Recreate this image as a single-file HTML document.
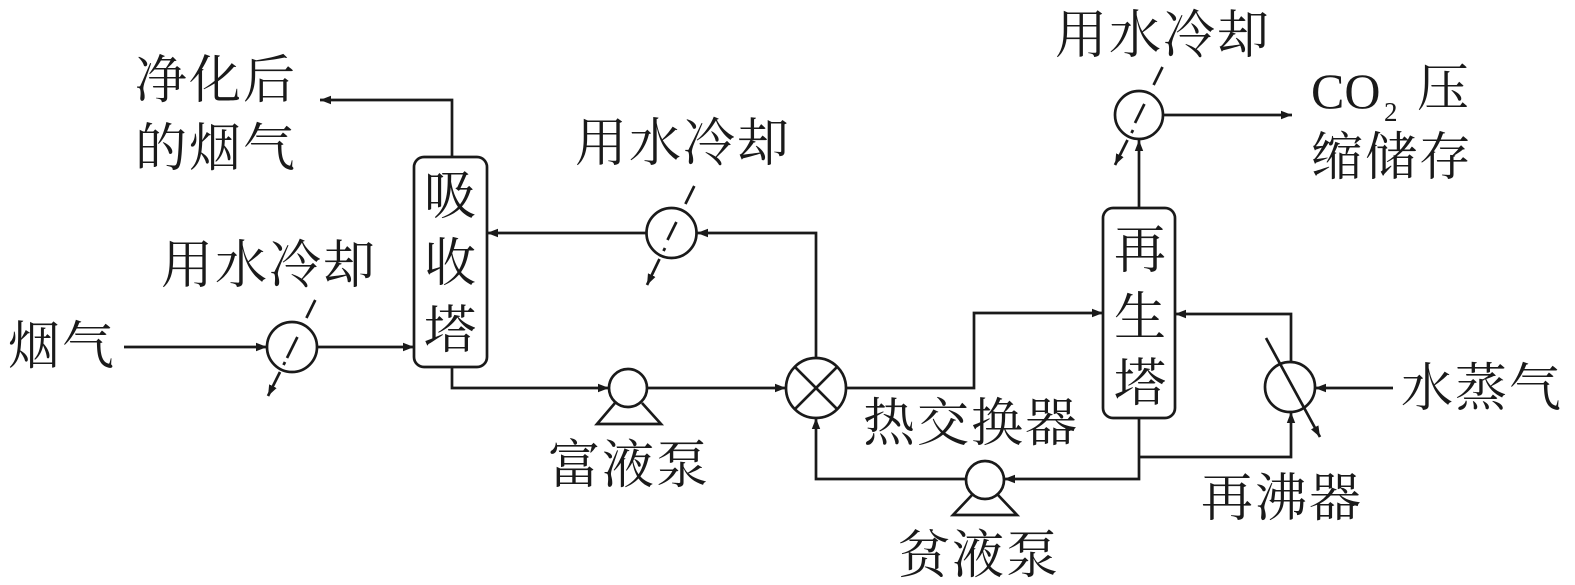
<!DOCTYPE html>
<html>
<head>
<meta charset="utf-8">
<style>
html,body{margin:0;padding:0;background:#fff;}
svg{display:block;}
.t{font-family:"Liberation Serif","Noto Serif CJK SC",serif;font-size:52px;fill:#1a1a1a;letter-spacing:2px;}
.c{font-family:"Liberation Serif","Noto Serif CJK SC",serif;font-size:52px;fill:#1a1a1a;text-anchor:middle;}
.l{fill:none;stroke:#1a1a1a;stroke-width:2.7;}
</style>
</head>
<body>
<svg width="1575" height="585" viewBox="0 0 1575 585" xmlns="http://www.w3.org/2000/svg">
<defs>
<marker id="a" markerWidth="12" markerHeight="10" refX="11" refY="5" orient="auto" markerUnits="userSpaceOnUse">
<path d="M0,0.8 L11,5 L0,9.2 z" fill="#1a1a1a"/>
</marker>
</defs>

<!-- Absorber column -->
<rect x="414" y="157" width="73" height="210" rx="10" ry="10" class="l"/>
<text class="c" x="450" y="214">吸</text>
<text class="c" x="450" y="281">收</text>
<text class="c" x="450" y="348">塔</text>

<!-- Purified gas out -->
<path class="l" d="M452,157 V100 H320" marker-end="url(#a)"/>

<!-- Flue gas in -->
<path class="l" d="M124,347 H267" marker-end="url(#a)"/>
<circle cx="292" cy="347" r="25" class="l"/>
<path class="l" d="M317,347 H414" marker-end="url(#a)"/>
<!-- cooler 1 slash -->
<g class="l">
<line x1="315.3" y1="300" x2="306.4" y2="318"/>
<line x1="297.4" y1="337" x2="287" y2="358"/>
<line x1="285" y1="362" x2="283.5" y2="365"/>
<path d="M280,372 L268,396" marker-end="url(#a)"/>
</g>

<!-- Absorber bottom -> rich pump -->
<path class="l" d="M452,367 V388 H609" marker-end="url(#a)"/>
<circle cx="628" cy="388" r="19" class="l"/>
<path class="l" d="M615,403 L597,424 H661 L642,403"/>
<path class="l" d="M647,388 H786" marker-end="url(#a)"/>

<!-- Heat exchanger -->
<circle cx="816" cy="388" r="30" class="l"/>
<line class="l" x1="794.8" y1="366.8" x2="837.2" y2="409.2"/>
<line class="l" x1="837.2" y1="366.8" x2="794.8" y2="409.2"/>

<!-- HX top -> cooler 2 -> absorber -->
<path class="l" d="M816,358 V233 H697" marker-end="url(#a)"/>
<circle cx="671.5" cy="233" r="25" class="l"/>
<path class="l" d="M646.5,233 H487" marker-end="url(#a)"/>
<g class="l">
<line x1="694.3" y1="186" x2="685.4" y2="204"/>
<line x1="676.4" y1="222" x2="667.5" y2="240"/>
<line x1="665" y1="248" x2="663.5" y2="251"/>
<path d="M659.5,259 L647,285" marker-end="url(#a)"/>
</g>

<!-- HX right -> regen -->
<path class="l" d="M846,388 H974 V313 H1103" marker-end="url(#a)"/>

<!-- Regen column -->
<rect x="1103" y="208" width="72" height="210" rx="10" ry="10" class="l"/>
<text class="c" x="1140" y="268">再</text>
<text class="c" x="1140" y="335">生</text>
<text class="c" x="1140" y="401">塔</text>

<!-- Regen top -> cooler 3 -> CO2 -->
<path class="l" d="M1139,208 V140" marker-end="url(#a)"/>
<circle cx="1139" cy="115" r="24" class="l"/>
<path class="l" d="M1163,115 H1292" marker-end="url(#a)"/>
<g class="l">
<line x1="1162.5" y1="67" x2="1153.6" y2="85"/>
<line x1="1144.4" y1="104" x2="1135" y2="123"/>
<line x1="1133" y1="130" x2="1131.5" y2="133"/>
<path d="M1127.5,140 L1115,165" marker-end="url(#a)"/>
</g>

<!-- Column bottom -> lean pump -> HX bottom -->
<path class="l" d="M1139,418 V479 H1004" marker-end="url(#a)"/>
<circle cx="985" cy="480" r="19" class="l"/>
<path class="l" d="M972,495 L953,515 H1017 L998,495"/>
<path class="l" d="M966,479 H816 V418" marker-end="url(#a)"/>

<!-- Reboiler loop -->
<path class="l" d="M1139,457 H1291 V412" marker-end="url(#a)"/>
<circle cx="1290" cy="387" r="25" class="l"/>
<path class="l" d="M1291,362 V314 H1175" marker-end="url(#a)"/>
<path class="l" d="M1393,388 H1315" marker-end="url(#a)"/>
<path class="l" d="M1266,338 L1320,437" marker-end="url(#a)"/>

<!-- Labels -->
<text class="t" x="135" y="98">净化后</text>
<text class="t" x="135" y="166">的烟气</text>
<text class="t" x="8" y="364">烟气</text>
<text class="t" x="161" y="283">用水冷却</text>
<text class="t" x="575" y="161">用水冷却</text>
<text class="t" x="1055" y="53">用水冷却</text>
<text class="t" x="548" y="483">富液泵</text>
<text class="t" x="863" y="441">热交换器</text>
<text class="t" x="898" y="573">贫液泵</text>
<text class="t" x="1201" y="516">再沸器</text>
<text class="t" x="1401" y="406">水蒸气</text>
<text x="1311" y="108" font-family="Liberation Serif, serif" font-size="50" fill="#1a1a1a">CO</text>
<text x="1384" y="121" font-family="Liberation Serif, serif" font-size="27" fill="#1a1a1a">2</text>
<text class="t" x="1417" y="106">压</text>
<text class="t" x="1311" y="175">缩储存</text>
</svg>
</body>
</html>
